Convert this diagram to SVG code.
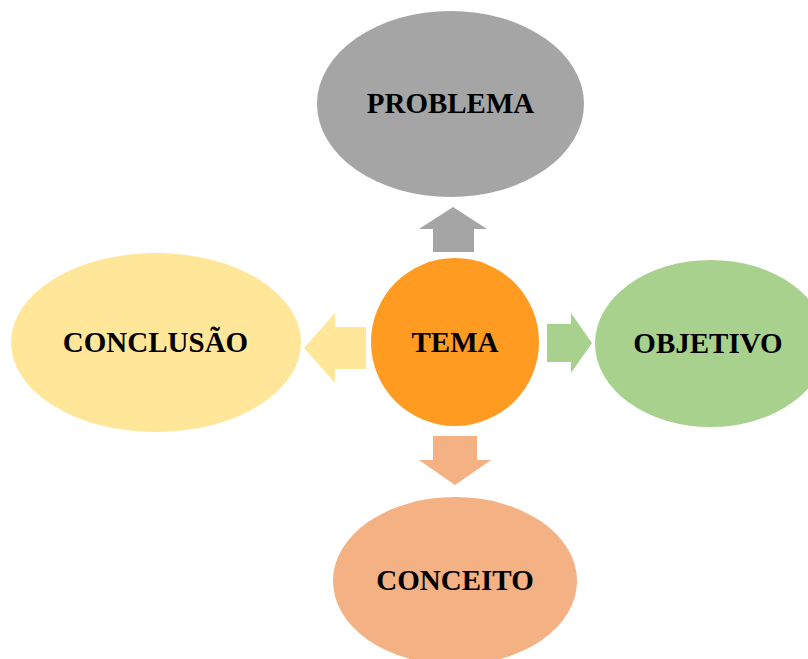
<svg xmlns="http://www.w3.org/2000/svg" width="808" height="659" viewBox="0 0 808 659">
  <style>
    .lbl { font-family: "Liberation Serif", "Times New Roman", serif; font-weight: bold; font-size: 29px; fill: #000; text-anchor: middle; }
  </style>
  <rect width="808" height="659" fill="#fff"/>
  <g id="connectors">
    <polygon id="arrow-up" fill="#A5A5A5" points="453,207 487,229 474,229 474,252 433,252 433,229 419,229"/>
    <polygon id="arrow-left" fill="#FFE699" points="304,348 335,313 335,327 366,327 366,369 335,369 335,383"/>
    <polygon id="arrow-right" fill="#A9D18E" points="592,343 571,313 571,324 547,324 547,362 571,362 571,373"/>
    <polygon id="arrow-down" fill="#F4B183" points="455,485 491,460 477,460 477,436 433,436 433,460 419,460"/>
  </g>
  <g id="node-problema">
    <ellipse cx="450.5" cy="104" rx="133.5" ry="93" fill="#A5A5A5"/>
    <text class="lbl" x="450.5" y="113">PROBLEMA</text>
  </g>
  <g id="node-conclusao">
    <ellipse cx="156" cy="342.5" rx="145" ry="89.5" fill="#FFE699"/>
    <text class="lbl" x="155.5" y="352">CONCLUSÃO</text>
  </g>
  <g id="node-objetivo">
    <ellipse cx="710.6" cy="343.5" rx="115.6" ry="83.5" fill="#A9D18E"/>
    <text class="lbl" x="708" y="353">OBJETIVO</text>
  </g>
  <g id="node-conceito">
    <ellipse cx="455" cy="581" rx="122" ry="84" fill="#F4B183"/>
    <text class="lbl" x="455" y="590">CONCEITO</text>
  </g>
  <g id="node-tema">
    <circle cx="455" cy="342" r="84" fill="#FF9B21"/>
    <text class="lbl" x="455" y="352">TEMA</text>
  </g>
</svg>
